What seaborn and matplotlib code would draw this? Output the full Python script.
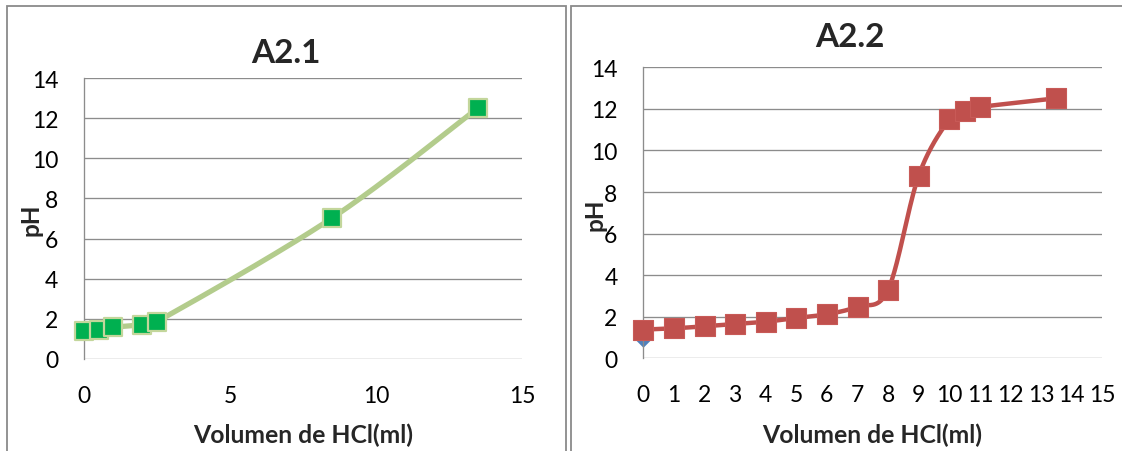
import numpy as np
import pandas as pd
import matplotlib
matplotlib.use("Agg")
import matplotlib.pyplot as plt
import seaborn as sns
from matplotlib.patches import Rectangle

# ---- data ----
vol_a21 = [0, 0.5, 1, 2, 2.5, 8.5, 13.5]
ph_a21 = [1.38, 1.44, 1.58, 1.71, 1.86, 7.03, 12.52]

vol_a22 = [0, 1, 2, 3, 4, 5, 6, 7, 8, 9, 10, 10.5, 11, 13.5]
ph_a22 = [1.38, 1.44, 1.54, 1.65, 1.76, 1.94, 2.12, 2.49, 3.30, 8.79, 11.50, 11.91, 12.09, 12.51]

vol_a22_extra = [0]
ph_a22_extra = [1.0]

x_ticks_a21 = [0, 5, 10, 15]
x_ticks_a22 = list(range(0, 16))
y_ticks = [0, 2, 4, 6, 8, 10, 12, 14]

titles = ["A2.1", "A2.2"]
x_label = "Volumen de HCl(ml)"
y_label = "pH"

# ---- style ----
sns.set_style("white")
plt.rcParams['font.family'] = ['Lato', 'DejaVu Sans']

W, H = 1122, 452
fig = plt.figure(figsize=(W / 100, H / 100), dpi=100)


def smooth(x, y, n=40):
    P = np.column_stack([x, y]).astype(float)
    pts = [P[0]]
    for i in range(len(P) - 1):
        p0 = P[i - 1] if i > 0 else P[i]
        p1 = P[i]
        p2 = P[i + 1]
        p3 = P[i + 2] if i + 2 < len(P) else P[i + 1]
        c1 = p1 + (p2 - p0) / 6.0
        c2 = p2 - (p3 - p1) / 6.0
        t = np.linspace(0, 1, n)[1:, None]
        seg = ((1 - t) ** 3) * p1 + 3 * ((1 - t) ** 2) * t * c1 + 3 * (1 - t) * (t ** 2) * c2 + (t ** 3) * p2
        pts.extend(seg)
    return np.array(pts)


def px_axes(x0, y0, x1, y1):
    return fig.add_axes([x0 / W, 1 - y1 / H, (x1 - x0) / W, (y1 - y0) / H])


grid_c = "#8C8C8C"
border_c = "#8A8A8A"

# panel borders
fig.patches.append(Rectangle((7 / W, -0.05), (566 - 7) / W, 1 - 7 / H + 0.05,
                             transform=fig.transFigure, fill=False,
                             edgecolor=border_c, linewidth=1.3))
fig.patches.append(Rectangle((571 / W, -0.05), 0.6, 1 - 7 / H + 0.05,
                             transform=fig.transFigure, fill=False,
                             edgecolor=border_c, linewidth=1.3))

ax1 = px_axes(84, 79, 522, 360)
ax2 = px_axes(643.3, 68.3, 1102.3, 359.3)


def style_axes(ax, xticks):
    ax.set_xlim(0, 15)
    ax.set_ylim(0, 14)
    ax.set_xticks(xticks)
    ax.set_yticks(y_ticks)
    ax.yaxis.grid(True, color=grid_c, linewidth=0.95)
    ax.xaxis.grid(False)
    for s in ["top", "right", "bottom"]:
        ax.spines[s].set_visible(False)
    ax.spines["left"].set_color(grid_c)
    ax.spines["left"].set_linewidth(0.95)
    ax.tick_params(axis="y", length=0, pad=18.5, labelsize=16.5, labelcolor="black")
    ax.tick_params(axis="x", length=0, pad=18.5, labelsize=16.5, labelcolor="black")
    ax.set_xlabel("")
    ax.set_ylabel("")
    ax.set_axisbelow(True)


# A2.1
c1 = smooth(vol_a21, ph_a21)
sns.lineplot(x=c1[:, 0], y=c1[:, 1], sort=False, estimator=None, color="#B3CC8C",
             linewidth=3.8, ax=ax1, zorder=2)
sns.scatterplot(x=vol_a21, y=ph_a21, marker="s", s=13.6 ** 2, color="#00B050",
                edgecolor="#C3D69B", linewidth=1.6, ax=ax1, zorder=3, clip_on=False)
style_axes(ax1, x_ticks_a21)

# A2.2
sns.scatterplot(x=vol_a22_extra, y=ph_a22_extra, marker="D", s=9.5 ** 2, color="#4F81BD",
                edgecolor="#4F81BD", linewidth=0, ax=ax2, zorder=2, clip_on=False)
c2 = smooth(vol_a22, ph_a22)
sns.lineplot(x=c2[:, 0], y=c2[:, 1], sort=False, estimator=None, color="#C0504D",
             linewidth=3.2, ax=ax2, zorder=3)
sns.scatterplot(x=vol_a22, y=ph_a22, marker="s", s=14.2 ** 2, color="#C0504D",
                edgecolor="#C85A57", linewidth=0.8, ax=ax2, zorder=4, clip_on=False)
style_axes(ax2, x_ticks_a22)

# titles & labels
fig.text(286 / W, 1 - 63.3 / H, titles[0], ha="center", va="baseline",
         fontsize=24, fontweight="bold")
fig.text(850 / W, 1 - 46.7 / H, titles[1], ha="center", va="baseline",
         fontsize=24, fontweight="bold")
fig.text(303 / W, 1 - 443 / H, x_label, ha="center", va="baseline",
         fontsize=17.8, fontweight="bold")
fig.text(872 / W, 1 - 443 / H, x_label, ha="center", va="baseline",
         fontsize=17.8, fontweight="bold")
fig.text(31 / W, 1 - 220 / H, y_label, ha="center", va="center", rotation=90,
         fontsize=17.5, fontweight="bold")
fig.text(595 / W, 1 - 215 / H, y_label, ha="center", va="center", rotation=90,
         fontsize=17.5, fontweight="bold")

fig.savefig("out.png", dpi=100, facecolor="white")
